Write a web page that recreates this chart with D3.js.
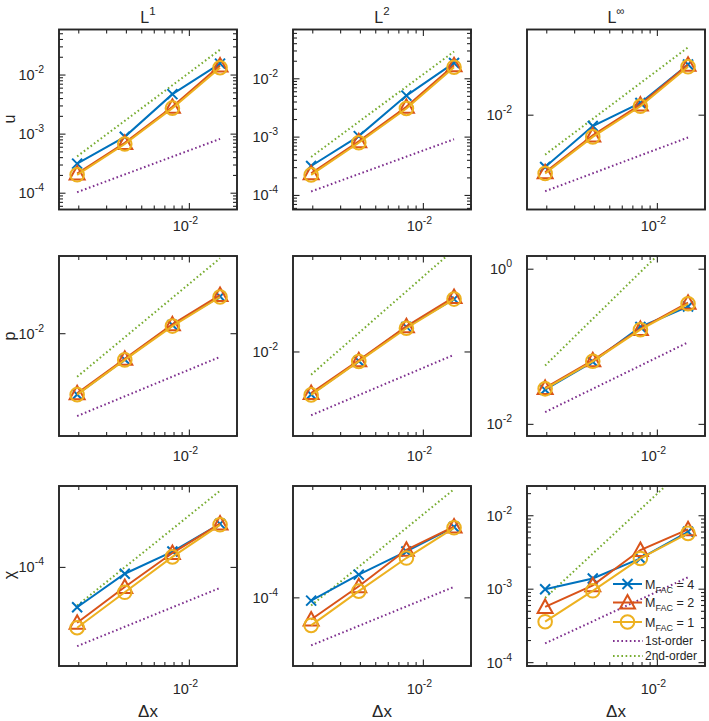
<!DOCTYPE html>
<html>
<head>
<meta charset="utf-8">
<script src="https://cdn.jsdelivr.net/npm/d3@7"></script>
<style>
  html, body { margin: 0; padding: 0; background: #fff; }
  svg { display: block; font-family: "Liberation Sans", Arial, Helvetica, sans-serif; }
</style>
</head>
<body>
<svg id="chart" width="709" height="721"></svg>
<script>
// ---------------- DATA ----------------
const dx = [1/512, 1/256, 1/128, 1/64];           // grid spacing
const refDx = [1/512, 1/64];                       // reference line x-extent
const xLimits = [1.5e-3, 2e-2];
const xMinorTicks = [2e-3, 3e-3, 4e-3, 5e-3, 6e-3, 7e-3, 8e-3, 9e-3, 2e-2];
const xMajorTicks = [1e-2];

const rowVars = ["u", "p", "χ"];
const colNorms = ["1", "2", "∞"];
const seriesNames = ["4", "2", "1"];               // M_FAC values
const refNames = ["1st-order", "2nd-order"];

// series order: [M_FAC=4, M_FAC=2, M_FAC=1]
const u_L1   = [[3.17e-4, 9.0e-4, 4.75e-3, 1.56e-2], [2.15e-4, 7.1e-4, 2.9e-3, 1.45e-2], [2.05e-4, 6.8e-4, 2.75e-3, 1.33e-2]];
const u_L2   = [[3.2e-4, 1.04e-3, 5.15e-3, 1.87e-2], [2.4e-4, 8.5e-4, 3.3e-3, 1.7e-2],   [2.25e-4, 8.0e-4, 3.1e-3, 1.58e-2]];
const u_Linf = [[1.37e-3, 6.6e-3, 1.6e-2, 7.0e-2],   [1.12e-3, 4.6e-3, 1.5e-2, 6.9e-2],   [1.07e-3, 4.35e-3, 1.41e-2, 6.4e-2]];
const p_L1   = [[1.23e-3, 4.1e-3, 1.35e-2, 3.6e-2],  [1.28e-3, 4.2e-3, 1.38e-2, 3.8e-2],  [1.22e-3, 4.05e-3, 1.3e-2, 3.55e-2]];
const p_L2   = [[2.43e-3, 7.4e-3, 2.3e-2, 5.8e-2],   [2.55e-3, 7.6e-3, 2.35e-2, 6.2e-2],  [2.4e-3, 7.3e-3, 2.2e-2, 5.8e-2]];
const p_Linf = [[2.8e-2, 6.4e-2, 0.18, 0.33],        [2.95e-2, 6.7e-2, 0.17, 0.37],       [2.87e-2, 6.5e-2, 0.166, 0.358]];
const x_L1   = [[2.45e-5, 8.0e-5, 1.75e-4, 4.65e-4], [1.42e-5, 5.0e-5, 1.66e-4, 4.7e-4],  [1.19e-5, 4.15e-5, 1.45e-4, 4.5e-4]];
const x_L2   = [[9.1e-5, 2.23e-4, 4.96e-4, 1.15e-3], [4.74e-5, 1.49e-4, 5.25e-4, 1.17e-3], [3.87e-5, 1.26e-4, 3.95e-4, 1.12e-3]];
const x_Linf = [[1.0e-3, 1.4e-3, 2.62e-3, 6.05e-3],  [5.74e-4, 1.13e-3, 3.41e-3, 6.53e-3], [3.61e-4, 9.5e-4, 2.62e-3, 5.75e-3]];

// reference lines: [1st-order [start,end], 2nd-order [start,end]]
const u_L1_ref   = [[1.04e-4, 8.3e-4], [4.2e-4, 2.69e-2]];
const u_L2_ref   = [[1.17e-4, 9.2e-4], [4.57e-4, 2.93e-2]];
const u_Linf_ref = [[5.4e-4, 4.25e-3], [2.2e-3, 0.135]];
const p_L1_ref   = [[5.83e-4, 4.49e-3], [2.26e-3, 0.135]];
const p_L2_ref   = [[1.22e-3, 9.1e-3], [4.7e-3, 0.30]];
const p_Linf_ref = [[1.44e-2, 0.114], [5.73e-2, 3.67]];
const x_L1_ref   = [[6.2e-6, 4.85e-5], [2.6e-5, 1.5e-3]];
const x_L2_ref   = [[1.94e-5, 1.46e-4], [7.67e-5, 4.24e-3]];
const x_Linf_ref = [[1.83e-4, 1.45e-3], [7.6e-4, 4.9e-2]];

// y limits per panel (row-major)
const yLimits = [
  [5.3e-5, 5.9e-2], [5.74e-5, 7.0e-2], [2.68e-4, 0.268],
  [2.93e-4, 0.146], [6.12e-4, 0.243], [7.08e-3, 1.48],
  [3.08e-6, 1.77e-3], [9.53e-6, 4.74e-3], [9.0e-5, 2.54e-2]
];
// labelled y ticks per panel
const yMajorTicks = [
  [1e-4, 1e-3, 1e-2], [1e-4, 1e-3, 1e-2], [1e-2],
  [1e-2], [1e-2], [1e-2, 1e0],
  [1e-4], [1e-4], [1e-4, 1e-3, 1e-2]
];
const yHasMinor = [true, true, false, false, false, false, false, false, true];

const panelData = [u_L1, u_L2, u_Linf, p_L1, p_L2, p_Linf, x_L1, x_L2, x_Linf];
const panelRefs = [u_L1_ref, u_L2_ref, u_Linf_ref, p_L1_ref, p_L2_ref, p_Linf_ref, x_L1_ref, x_L2_ref, x_Linf_ref];

// ---------------- STYLE / LAYOUT ----------------
const colors = ["#0072BD", "#D95319", "#EDB120"];
const refColors = ["#7E2F8E", "#77AC30"];
const axisColor = "#262626";
const lefts = [59, 293, 527];
const tops = [29.5, 256, 486];
const W = 178, H = 180;
const xLabelBaseline = [231, 461, 694];
const yLabelPos = [[15, 119], [15, 336], [15, 575]];

const svg = d3.select("#chart");
const defs = svg.append("defs");

const markerPaths = [
  "M-5,-5L5,5M-5,5L5,-5",
  "M0,-7.5L7.5,6L-7.5,6Z",
  null
];

function drawMarker(g, k, x, y) {
  if (k === 2) {
    g.append("circle").attr("cx", x).attr("cy", y).attr("r", 6.8)
      .attr("fill", "none").attr("stroke", colors[k]).attr("stroke-width", 2);
  } else {
    g.append("path").attr("d", markerPaths[k]).attr("transform", `translate(${x},${y})`)
      .attr("fill", "none").attr("stroke", colors[k]).attr("stroke-width", 2)
      .attr("stroke-linejoin", "miter");
  }
}

function powLabel(sel, exp, bigSize, smallSize, raise) {
  sel.append("tspan").attr("font-size", bigSize).text("10");
  sel.append("tspan").attr("font-size", smallSize).attr("dy", -raise).text(exp);
}

for (let r = 0; r < 3; r++) {
  for (let c = 0; c < 3; c++) {
    const i = r * 3 + c;
    const g = svg.append("g").attr("transform", `translate(${lefts[c]},${tops[r]})`);
    const x = d3.scaleLog().domain(xLimits).range([0, W]);
    const y = d3.scaleLog().domain(yLimits[i]).range([H, 0]);

    const clipId = "clip" + i;
    defs.append("clipPath").attr("id", clipId).append("rect")
      .attr("x", 0).attr("y", 0).attr("width", W).attr("height", H);
    const plot = g.append("g").attr("clip-path", `url(#${clipId})`);

    // reference lines
    panelRefs[i].forEach((ref, k) => {
      const pts = refDx.map((d, j) => [x(d), y(ref[j])]);
      plot.append("path").attr("d", d3.line()(pts))
        .attr("fill", "none").attr("stroke", refColors[k]).attr("stroke-width", 2)
        .attr("stroke-dasharray", "1.6,2.6");
    });

    // series
    panelData[i].forEach((vals, k) => {
      const pts = dx.map((d, j) => [x(d), y(vals[j])]);
      plot.append("path").attr("d", d3.line()(pts))
        .attr("fill", "none").attr("stroke", colors[k]).attr("stroke-width", 2);
      pts.forEach(p => drawMarker(plot, k, p[0], p[1]));
    });

    // ticks
    const tg = g.append("g").attr("stroke", axisColor).attr("stroke-width", 1.1);
    const xt = xMinorTicks.map(v => [v, 4]).concat(xMajorTicks.map(v => [v, 6.5]));
    xt.forEach(([v, len]) => {
      const px = x(v);
      tg.append("line").attr("x1", px).attr("x2", px).attr("y1", H).attr("y2", H - len);
      tg.append("line").attr("x1", px).attr("x2", px).attr("y1", 0).attr("y2", len);
    });
    let yt = yMajorTicks[i].map(v => [v, 6.5]);
    if (yHasMinor[i]) {
      const [lo, hi] = yLimits[i];
      const e0 = Math.floor(Math.log10(lo)), e1 = Math.ceil(Math.log10(hi));
      for (let e = e0; e <= e1; e++) {
        for (let m = 2; m <= 9; m++) {
          const v = m * Math.pow(10, e);
          if (v >= lo && v <= hi) yt.push([v, 4]);
        }
      }
    }
    yt.forEach(([v, len]) => {
      const py = y(v);
      tg.append("line").attr("x1", 0).attr("x2", len).attr("y1", py).attr("y2", py);
      tg.append("line").attr("x1", W).attr("x2", W - len).attr("y1", py).attr("y2", py);
    });

    // box
    g.append("rect").attr("x", 0).attr("y", 0).attr("width", W).attr("height", H)
      .attr("fill", "none").attr("stroke", axisColor).attr("stroke-width", 1.9);

    // x tick labels
    xMajorTicks.forEach(v => {
      const t = svg.append("text").attr("x", lefts[c] + x(v) - 4).attr("y", xLabelBaseline[r])
        .attr("text-anchor", "middle").attr("fill", axisColor);
      powLabel(t, String(Math.round(Math.log10(v))), 14.5, 10.5, 7);
    });
    // y tick labels
    yMajorTicks[i].forEach(v => {
      const t = g.append("text").attr("x", -15).attr("y", y(v) + 5)
        .attr("text-anchor", "end").attr("fill", axisColor);
      powLabel(t, String(Math.round(Math.log10(v))), 14.5, 10.5, 7);
    });

    // column titles
    if (r === 0) {
      const t = svg.append("text").attr("x", lefts[c] + W / 2).attr("y", 23)
        .attr("text-anchor", "middle").attr("fill", axisColor);
      t.append("tspan").attr("font-size", 16).text("L");
      t.append("tspan").attr("font-size", 11.5).attr("dy", -8).text(colNorms[c]);
    }
    // x axis label
    if (r === 2) {
      svg.append("text").attr("x", lefts[c] + W / 2).attr("y", 717)
        .attr("text-anchor", "middle").attr("font-size", 17).attr("fill", axisColor)
        .text("Δx");
    }
    // row labels
    if (c === 0) {
      svg.append("text")
        .attr("transform", `translate(${yLabelPos[r][0]},${yLabelPos[r][1]}) rotate(-90)`)
        .attr("text-anchor", "middle").attr("font-size", 16).attr("fill", axisColor)
        .text(rowVars[r]);
    }

    // legend (last panel)
    if (i === 8) {
      const lg = svg.append("g");
      const lx0 = 613, lx1 = 642, tx = 645;
      const ys = [584, 602.5, 622];
      seriesNames.forEach((name, k) => {
        lg.append("line").attr("x1", lx0).attr("x2", lx1).attr("y1", ys[k]).attr("y2", ys[k])
          .attr("stroke", colors[k]).attr("stroke-width", 2);
        drawMarker(lg, k, (lx0 + lx1) / 2, ys[k]);
        const t = lg.append("text").attr("x", tx).attr("y", ys[k] + 4.5).attr("fill", axisColor);
        t.append("tspan").attr("font-size", 12.5).text("M");
        t.append("tspan").attr("font-size", 9).attr("dy", 4).text("FAC");
        t.append("tspan").attr("font-size", 12.5).attr("dy", -4).text(" = " + name);
      });
      const rys = [641, 656];
      refNames.forEach((name, k) => {
        lg.append("line").attr("x1", lx0).attr("x2", lx1 + 1).attr("y1", rys[k]).attr("y2", rys[k])
          .attr("stroke", refColors[k]).attr("stroke-width", 2).attr("stroke-dasharray", "1.6,2.6");
        lg.append("text").attr("x", tx).attr("y", rys[k] + 4).attr("font-size", 12)
          .attr("fill", axisColor).text(name);
      });
    }
  }
}
</script>
</body>
</html>
